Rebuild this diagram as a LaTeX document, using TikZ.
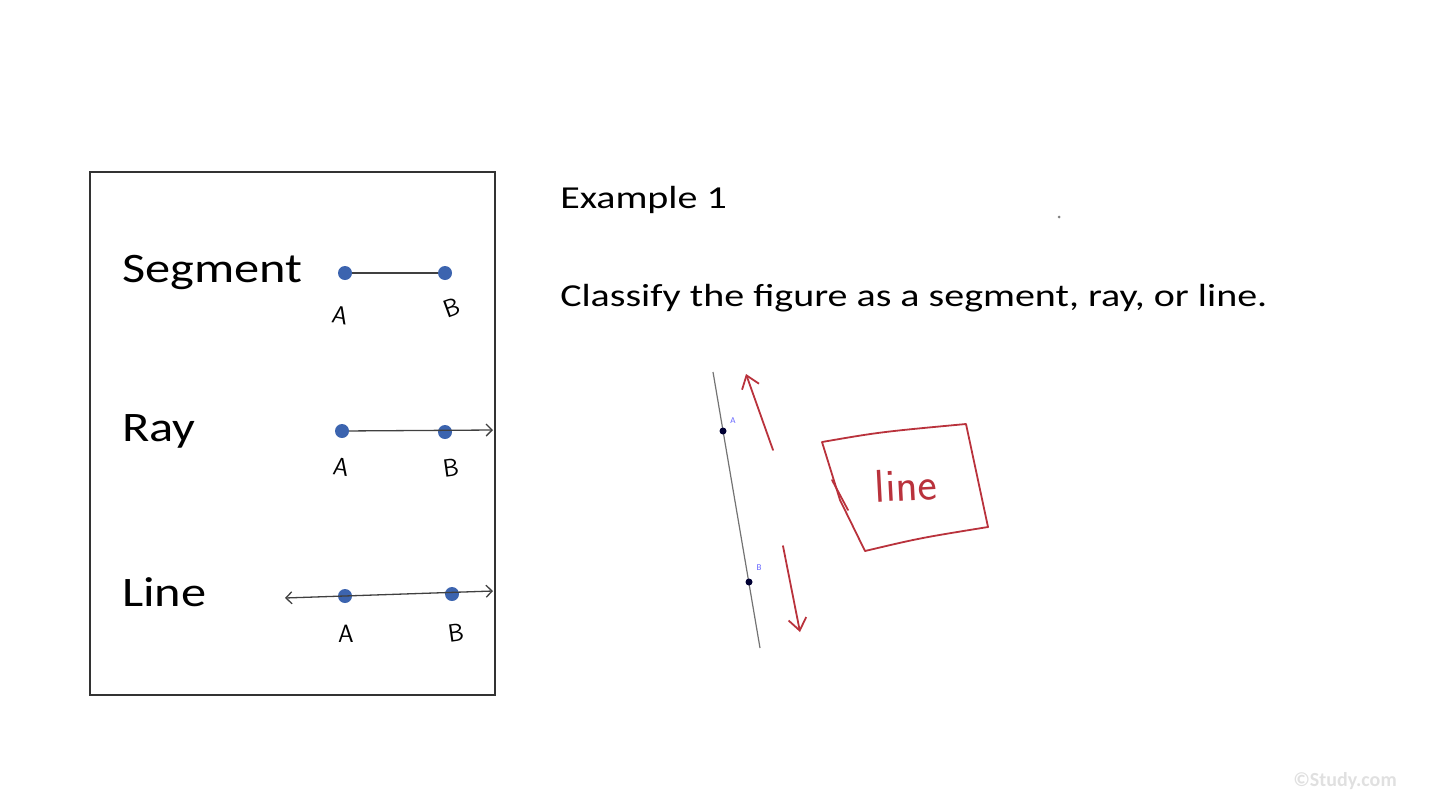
\documentclass[tikz,border=0pt]{standalone}
\usepackage{fontspec}
\setmainfont{Carlito}
\usetikzlibrary{arrows.meta}
\definecolor{dotc}{RGB}{60,100,175}
\definecolor{redc}{RGB}{185,50,60}
\begin{document}
\begin{tikzpicture}[x=1pt,y=-1pt,
  dot/.style={circle,fill=dotc,inner sep=0pt,minimum size=14pt},
  bdot/.style={circle,fill=black!80!blue,inner sep=0pt,minimum size=7pt},
  lab/.style={font=\fontsize{25}{26}\selectfont\sffamily,inner sep=0pt},
  big/.style={font=\fontsize{42}{44}\selectfont,anchor=west,inner sep=0pt,xscale=1.2},
  txt/.style={font=\fontsize{32}{34}\selectfont,anchor=west,inner sep=0pt,xscale=1.25},
  seg/.style={draw=black!75,line width=1.3pt},
  red/.style={draw=redc,line width=1.8pt,line cap=round,line join=round}]
\useasboundingbox (0,0) rectangle (1440,809);
\draw[black!80,line width=1.8pt] (90,172) rectangle (495,695);
\node[big] (s) at (122,272) {Segment};
\node[big] (r) at (122,431) {Ray};
\node[big] (l) at (122,592) {Line};
% segment
\node[dot] (sa) at (345,273) {}; \node[dot] (sb) at (445,273) {};
\draw[seg] (sa) -- (sb);
\node[lab,rotate=-10] at (340,315) {A}; \node[lab,rotate=20] at (452,308) {B};
% ray
\node[dot] (ra) at (342,431) {}; \node[dot] (rb) at (445,432) {};
\coordinate (re) at (493,430);
\draw[seg,-{Straight Barb[length=6pt]}] (ra) -- (re);
\node[lab,rotate=-8] at (341,467) {A}; \node[lab,rotate=8] at (451,468) {B};
% line
\node[dot] (la) at (345,596) {}; \node[dot] (lb) at (452,594) {};
\coordinate (ls) at (285,598); \coordinate (le) at (493,591);
\draw[seg,{Straight Barb[length=6pt]}-{Straight Barb[length=6pt]}] (ls) -- (le);
\node[lab] at (346,634) {A}; \node[lab,rotate=8] at (456,633) {B};
% right
\node[txt] (ex) at (560,200) {Example 1};
\node[txt] (cl) at (560,298) {Classify the figure as a segment, ray, or line.};
\coordinate (t1) at (713,372); \coordinate (t2) at (760,648);
\draw[black!55,line width=1.2pt] (t1) -- (t2);
\node[bdot] (pa) at (723,431) {}; \node[bdot] (pb) at (749,582) {};
\node[font=\fontsize{9}{9}\selectfont,text=blue!60] at (733,421) {A};
\node[font=\fontsize{9}{9}\selectfont,text=blue!60] at (759,568) {B};
\coordinate (ua) at (773,450); \coordinate (ub) at (746,374);
\draw[red,-{Straight Barb[length=12pt,width=18pt]}] (ua) -- (ub);
\coordinate (da) at (783,546); \coordinate (db) at (800,632);
\draw[red,-{Straight Barb[length=12pt,width=18pt]}] (da) -- (db);
\draw[red] (822,442) .. controls (880,432) .. (966,424) -- (988,527) .. controls (920,538) .. (865,551) -- (840,500) -- (822,442);
\draw[red] (832,480) -- (848,510);
\node[font=\fontsize{46}{46}\selectfont\sffamily,text=redc,rotate=3] (ln) at (906,485) {line};
\node[font=\fontsize{20}{20}\selectfont\bfseries,text=black!12] (wm) at (1345,781) {©Study.com};
\fill[black!50] (1059,217) circle (1.5);
\end{tikzpicture}
\end{document}
